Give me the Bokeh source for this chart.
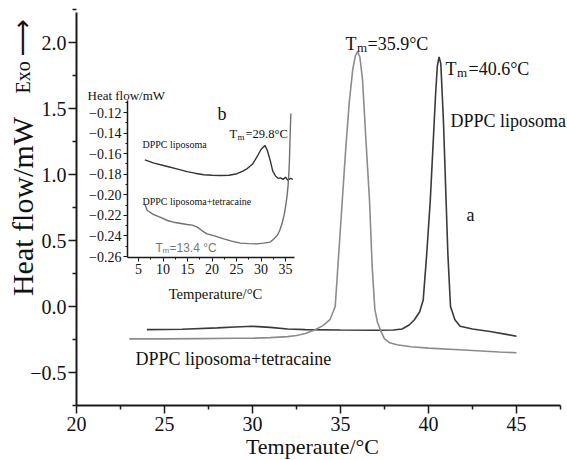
import math
from bokeh.plotting import figure
from bokeh.models import Range1d, LinearAxis, FixedTicker, Label
from bokeh.embed import file_html
from bokeh.resources import INLINE

# ---------------- data ----------------
main_x_ticks = [20, 25, 30, 35, 40, 45]
main_x_minor = [22.5, 27.5, 32.5, 37.5, 42.5, 47.5]
main_y_ticks = [-0.5, 0.0, 0.5, 1.0, 1.5, 2.0]
main_y_minor = [-0.75, -0.25, 0.25, 0.75, 1.25, 1.75, 2.25]

# DPPC liposoma (dark trace)
main_dppc_x = [24.0, 26.0, 28.0, 29.0, 30.0, 31.0, 32.0, 33.0, 35.0, 37.0, 38.0,
               38.5, 38.9, 39.2, 39.5, 39.7, 39.9, 40.1, 40.25, 40.4, 40.5, 40.6,
               40.7, 40.85, 41.0, 41.1, 41.25, 41.5, 41.8, 42.5, 43.5, 44.5, 45.0]
main_dppc_y = [-0.175, -0.172, -0.162, -0.155, -0.150, -0.158, -0.170, -0.175, -0.178,
               -0.180, -0.178, -0.170, -0.140, -0.100, -0.040, 0.050, 0.400, 0.800,
               1.200, 1.600, 1.820, 1.890, 1.840, 1.400, 0.800, 0.400, 0.000, -0.100,
               -0.150, -0.170, -0.190, -0.213, -0.225]

# DPPC liposoma + tetracaine (grey trace)
main_tet_x = [23.0, 25.0, 27.0, 29.0, 30.0, 31.0, 32.0, 32.5, 33.0, 33.5, 34.0, 34.4,
              34.7, 34.9, 35.1, 35.3, 35.5, 35.7, 35.85, 35.97, 36.1, 36.25, 36.45,
              36.65, 36.8, 36.95, 37.1, 37.3, 37.5, 37.8, 38.2, 39.0, 40.0, 42.0,
              44.0, 45.0]
main_tet_y = [-0.245, -0.245, -0.243, -0.241, -0.240, -0.236, -0.228, -0.220, -0.205,
              -0.180, -0.145, -0.100, 0.000, 0.400, 0.800, 1.200, 1.550, 1.800, 1.900,
              1.930, 1.890, 1.720, 1.250, 0.800, 0.300, -0.020, -0.120, -0.190, -0.245,
              -0.275, -0.290, -0.305, -0.315, -0.330, -0.345, -0.350]

# inset (b)
ins_x_ticks = [5, 10, 15, 20, 25, 30, 35]
ins_x_minor = [7.5, 12.5, 17.5, 22.5, 27.5, 32.5]
ins_y_ticks = [-0.26, -0.24, -0.22, -0.20, -0.18, -0.16, -0.14, -0.12]
ins_y_minor = [-0.25, -0.23, -0.21, -0.19, -0.17, -0.15, -0.13, -0.11]

ins_dppc_x = [6.3, 8.0, 10.9, 13.0, 14.9, 16.5, 18.3, 20.0, 21.7, 23.5, 25.1, 26.3,
              27.2, 28.3, 29.2, 30.0, 30.8, 31.3, 31.9, 32.4, 33.0, 33.5, 34.0, 34.5,
              35.0, 35.5, 36.0, 36.5]
ins_dppc_y = [-0.166, -0.169, -0.1725, -0.175, -0.1775, -0.179, -0.1805, -0.181,
              -0.1813, -0.181, -0.1795, -0.177, -0.1745, -0.170, -0.163, -0.156,
              -0.152, -0.157, -0.167, -0.177, -0.182, -0.184, -0.1835, -0.185,
              -0.183, -0.186, -0.184, -0.185]

ins_tet_x = [6.3, 6.8, 8.0, 9.5, 10.9, 12.5, 14.9, 16.0, 17.0, 18.0, 19.0, 20.5,
             22.4, 24.0, 25.8, 27.5, 29.2, 30.5, 31.9, 32.6, 33.3, 33.8, 34.3, 34.7,
             35.0, 35.3, 35.5, 35.7, 35.8, 35.9, 36.0, 36.1]
ins_tet_y = [-0.2094, -0.2153, -0.219, -0.222, -0.225, -0.227, -0.2289, -0.2295,
             -0.2315, -0.235, -0.238, -0.240, -0.2428, -0.245, -0.247, -0.2475,
             -0.2477, -0.247, -0.246, -0.243, -0.2396, -0.235, -0.228, -0.220,
             -0.212, -0.202, -0.1926, -0.178, -0.1667, -0.150, -0.134, -0.121]

# ---------------- layout helpers ----------------
SERIF = "Liberation Serif"
SANS = "Liberation Sans"
W, H = 567, 460
X0, XPX0, XS = 20.0, 76.0, 17.6     # main x: value, pixel, px per unit
Y0, YPX0, YS = 0.0, 306.0, 132.0    # main y


def dx(px):
    return X0 + (px - XPX0) / XS


def dy(py):
    return Y0 + (YPX0 - py) / YS


# The frame covers the whole canvas; axes are placed at fixed locations so that
# every text (incl. axis titles) lives inside the frame.
p = figure(width=W, height=H,
           x_range=Range1d(dx(0), dx(W)), y_range=Range1d(dy(H), dy(0)),
           x_axis_location=None, y_axis_location=None,
           output_backend="svg", toolbar_location=None,
           min_border_left=0, min_border_right=0, min_border_top=0,
           min_border_bottom=0, background_fill_color="white",
           border_fill_color="white")
p.outline_line_color = None
p.xgrid.visible = False
p.ygrid.visible = False

main_xaxis = LinearAxis(fixed_location=dy(405), bounds=(20.0, 47.5),
                        ticker=FixedTicker(ticks=main_x_ticks, minor_ticks=main_x_minor))
main_yaxis = LinearAxis(fixed_location=20.0, bounds=(dy(405), dy(12)),
                        ticker=FixedTicker(ticks=main_y_ticks, minor_ticks=main_y_minor))
for ax in (main_xaxis, main_yaxis):
    ax.axis_line_width = 2
    ax.axis_line_color = "#1a1a1a"
    ax.major_tick_line_width = 1.5
    ax.minor_tick_line_width = 1.5
    ax.major_tick_line_color = "#1a1a1a"
    ax.minor_tick_line_color = "#1a1a1a"
    ax.major_tick_in = 0
    ax.major_tick_out = 8
    ax.minor_tick_in = 0
    ax.minor_tick_out = 4
    ax.major_label_text_font = SERIF
    ax.major_label_text_font_size = "20px"
    ax.major_label_text_color = "#111111"
main_xaxis.major_label_standoff = 3
main_yaxis.major_label_standoff = 2
main_yaxis.major_label_overrides = {
    t: (("\u2212%.1f" % abs(t)) if t < 0 else ("%.1f" % t)) for t in main_y_ticks}
p.add_layout(main_xaxis, "below")
p.add_layout(main_yaxis, "left")

# ----- inset drawn on extra ranges -----
IX0, IXPX0, IXS = 5.0, 138.0, 4.9
IY0, IYPX0, IYS = -0.12, 112.0, 1028.6


def ix(px):
    return IX0 + (px - IXPX0) / IXS


def iy(py):
    return IY0 + (IYPX0 - py) / IYS


p.extra_x_ranges = {"ix": Range1d(ix(0), ix(W))}
p.extra_y_ranges = {"iy": Range1d(iy(H), iy(0))}

ins_xaxis = LinearAxis(x_range_name="ix", y_range_name="iy",
                       fixed_location=iy(257), bounds=(ix(127), ix(294)),
                       ticker=FixedTicker(ticks=ins_x_ticks, minor_ticks=ins_x_minor))
ins_yaxis = LinearAxis(x_range_name="ix", y_range_name="iy",
                       fixed_location=ix(127), bounds=(iy(257), iy(100)),
                       ticker=FixedTicker(ticks=ins_y_ticks, minor_ticks=ins_y_minor))
ins_yaxis.major_label_overrides = {t: ("\u2212%.2f" % abs(t)) for t in ins_y_ticks}
for ax in (ins_xaxis, ins_yaxis):
    ax.axis_line_width = 1.5
    ax.axis_line_color = "#1a1a1a"
    ax.major_tick_line_color = "#1a1a1a"
    ax.minor_tick_line_color = "#1a1a1a"
    ax.major_tick_in = 0
    ax.major_tick_out = 4
    ax.minor_tick_in = 0
    ax.minor_tick_out = 2
    ax.major_label_standoff = 2
    ax.major_label_text_font = SERIF
    ax.major_label_text_font_size = "14px"
    ax.major_label_text_color = "#111111"
p.add_layout(ins_xaxis, "below")
p.add_layout(ins_yaxis, "left")

# ----- curves -----
p.line(main_dppc_x, main_dppc_y, line_color="#3a3a3a", line_width=1.6)
p.line(main_tet_x, main_tet_y, line_color="#8c8c8c", line_width=1.6)
p.line(ins_dppc_x, ins_dppc_y, x_range_name="ix", y_range_name="iy",
       line_color="#333333", line_width=1.4)
p.line(ins_tet_x, ins_tet_y, x_range_name="ix", y_range_name="iy",
       line_color="#707070", line_width=1.4)


# ----- texts -----
def lab(text, px, py, size, font=SERIF, color="#111111", angle=0.0,
        align="left", baseline="alphabetic"):
    p.add_layout(Label(x=dx(px), y=dy(py), text=text, text_font=font,
                       text_font_size="%gpx" % size, text_color=color,
                       angle=angle, text_align=align, text_baseline=baseline))


# axis titles
lab("Heat flow/mW", 22, 206, 30, angle=math.pi / 2, align="center", baseline="middle")
lab("Exo", 22, 93, 20, angle=math.pi / 2, align="left", baseline="middle")
lab("\u27f6", 21, 56, 26, font="DejaVu Sans", angle=math.pi / 2,
    align="left", baseline="middle")
lab("Temperaute/\u00b0C", 312, 446, 22, align="center")

# main annotations
lab("T", 345, 43, 18)
lab("m", 356.5, 47, 13)
lab("=35.9\u00b0C", 367, 43, 18)
lab("T", 445, 68, 18)
lab("m", 456.5, 72, 13)
lab("=40.6\u00b0C", 468, 68, 18)
lab("DPPC liposoma", 450, 120, 18)
lab("a", 466, 214, 18)
lab("DPPC liposoma+tetracaine", 135, 358, 18)

# inset annotations
lab("Heat flow/mW", 87, 95, 13)
lab("b", 217, 113, 18)
lab("T", 229, 133, 12.5)
lab("m", 237, 136, 9)
lab("=29.8\u00b0C", 245, 133, 12.5)
lab("DPPC liposoma", 142, 144, 10)
lab("DPPC liposoma+tetracaine", 142, 201, 10)
lab("T", 155, 247, 12, font=SANS, color="#777777")
lab("m", 162, 250, 8, font=SANS, color="#777777")
lab("=13.4 \u00b0C", 169, 247, 12, font=SANS, color="#777777")
lab("Temperature/\u00b0C", 215, 293, 14.7, align="center")

open("out.html", "w").write(file_html(p, INLINE))
